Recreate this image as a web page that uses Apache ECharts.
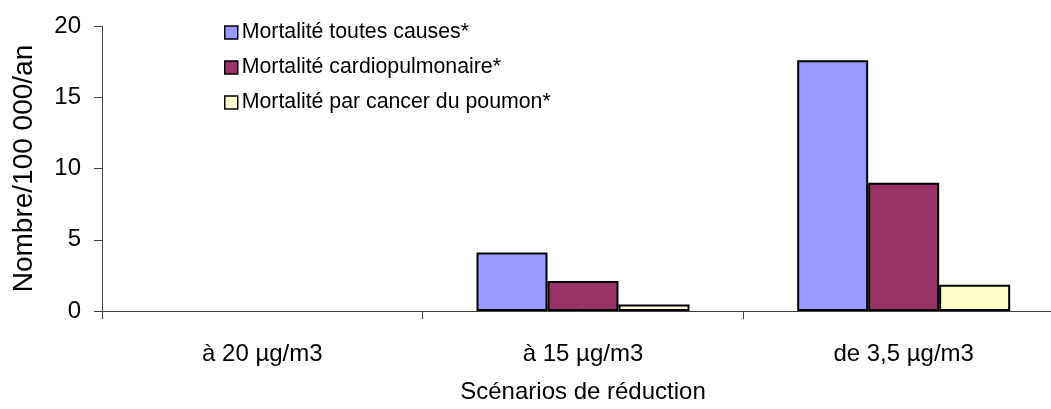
<!DOCTYPE html>
<html>
<head>
<meta charset="utf-8">
<script src="https://cdn.jsdelivr.net/npm/echarts@6/dist/echarts.min.js"></script>
<style>
  html, body { margin: 0; padding: 0; background: #fff; }
  #chart { width: 1051px; height: 409px; }
</style>
</head>
<body>
<div id="chart"></div>
<script>
const categories = ['à 20 µg/m3', 'à 15 µg/m3', 'de 3,5 µg/m3'];
const seriesNames = ['Mortalité toutes causes*', 'Mortalité cardiopulmonaire*', 'Mortalité par cancer du poumon*'];
// no bar drawn for the first scenario
const toutesCauses = [null, 4.1, 17.6];
const cardiopulmonaire = [null, 2.1, 9.0];
const cancerPoumon = [null, 0.45, 1.85];
const colors = ['#9999ff', '#993366', '#ffffcc'];

const chart = echarts.init(document.getElementById('chart'));
const font = 'Liberation Sans, Arial, sans-serif';

const mkSeries = (name, data, color) => ({
  name: name,
  type: 'bar',
  data: data,
  barWidth: 71,
  barGap: '0%',
  itemStyle: { color: color, borderColor: '#000', borderWidth: 2 },
  emphasis: { disabled: true }
});

chart.setOption({
  animation: false,
  grid: { left: 102, right: -13, top: 26, bottom: 98, outerBoundsMode: 'none' },
  legend: {
    orient: 'vertical',
    left: 219,
    top: 17,
    itemWidth: 13,
    itemHeight: 13,
    itemGap: 14,
    icon: 'rect',
    textStyle: { fontFamily: font, fontSize: 21.3, color: '#000', padding: [0, 0, 0, -1] },
    itemStyle: { borderColor: '#000', borderWidth: 1.5 },
    data: seriesNames
  },
  xAxis: {
    type: 'category',
    data: categories,
    name: 'Scénarios de réduction',
    nameLocation: 'middle',
    nameGap: 69,
    nameTextStyle: { fontFamily: font, fontSize: 24, color: '#000' },
    axisLine: { lineStyle: { color: '#404040', width: 1 } },
    axisTick: { show: true, length: 8, lineStyle: { color: '#404040' } },
    axisLabel: { fontFamily: font, fontSize: 24, color: '#000', margin: 31 }
  },
  yAxis: {
    type: 'value',
    min: 0,
    max: 20,
    interval: 5,
    name: 'Nombre/100 000/an',
    nameLocation: 'middle',
    nameGap: 64,
    nameTextStyle: { fontFamily: font, fontSize: 28, color: '#000' },
    axisLine: { show: true, lineStyle: { color: '#404040', width: 1 } },
    axisTick: { show: true, length: 8, lineStyle: { color: '#404040' } },
    axisLabel: { fontFamily: font, fontSize: 24, color: '#000', margin: 21 },
    splitLine: { show: false }
  },
  series: [
    mkSeries(seriesNames[0], toutesCauses, colors[0]),
    mkSeries(seriesNames[1], cardiopulmonaire, colors[1]),
    mkSeries(seriesNames[2], cancerPoumon, colors[2])
  ]
});
</script>
</body>
</html>
